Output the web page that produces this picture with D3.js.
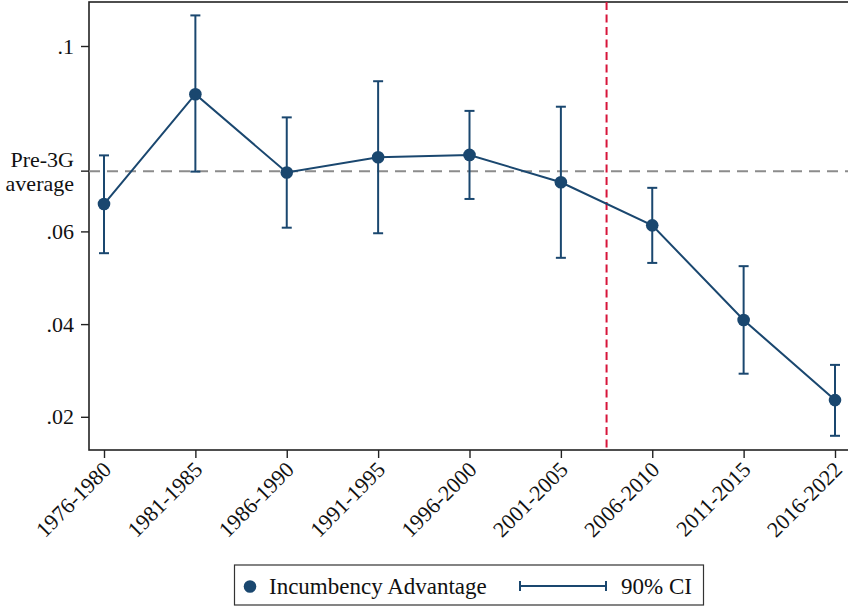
<!DOCTYPE html>
<html>
<head>
<meta charset="utf-8">
<script src="https://cdn.jsdelivr.net/npm/d3@7"></script>
<style>
  html, body { margin: 0; padding: 0; background: #fff; }
  svg { display: block; }
</style>
</head>
<body>
<svg id="chart" width="848" height="607"></svg>
<script>
const periods = ["1976-1980","1981-1985","1986-1990","1991-1995","1996-2000","2001-2005","2006-2010","2011-2015","2016-2022"];
const estimates = [0.0659, 0.0896, 0.0727, 0.0760, 0.0765, 0.0706, 0.0613, 0.0409, 0.0236];
const ciLower  = [0.0553, 0.0729, 0.0608, 0.0596, 0.0670, 0.0543, 0.0532, 0.0293, 0.0159];
const ciUpper  = [0.0764, 0.1066, 0.0846, 0.0924, 0.0860, 0.0869, 0.0694, 0.0525, 0.0312];
const yTicks = [0.02, 0.04, 0.06, 0.1];
const yTickLabels = [".02", ".04", ".06", ".1"];
const pre3GAverage = 0.0730;
const pre3GLabel = ["Pre-3G", "average"];
const cutoffBetween = ["2001-2005", "2006-2010"];
const legendLabels = ["Incumbency Advantage", "90% CI"];

const FONT = "'Liberation Serif', 'Times New Roman', Times, serif";
const FS = 22;
const navy = "#1a476f";
const svg = d3.select("#chart");
const plot = { left: 89, right: 852, top: 2, bottom: 450 };

const x = d3.scalePoint().domain(periods).range([104, 835]);
const y = d3.scaleLinear().domain([0.1, 0.02]).range([46, 416.8]);

// frame
svg.append("rect")
  .attr("x", plot.left).attr("y", plot.top)
  .attr("width", plot.right - plot.left).attr("height", plot.bottom - plot.top)
  .attr("fill", "none").attr("stroke", "#222").attr("stroke-width", 1.6);

// y axis
const yAxis = d3.axisLeft(y).tickValues(yTicks).tickSize(8).tickPadding(7)
  .tickFormat((d, i) => yTickLabels[i]);
const gy = svg.append("g").attr("transform", `translate(${plot.left},0)`).call(yAxis)
  .attr("font-family", FONT).attr("font-size", FS);
gy.select(".domain").remove();
gy.selectAll(".tick line").attr("stroke", "#222").attr("stroke-width", 1.4);
gy.selectAll(".tick text").attr("fill", "#111");

// pre-3G tick + label
svg.append("line").attr("x1", plot.left - 8).attr("x2", plot.left)
  .attr("y1", y(pre3GAverage)).attr("y2", y(pre3GAverage))
  .attr("stroke", "#222").attr("stroke-width", 1.4);
svg.append("text").attr("x", plot.left - 15).attr("y", y(pre3GAverage) - 4)
  .attr("text-anchor", "end").attr("font-family", FONT).attr("font-size", FS).attr("fill", "#111")
  .text(pre3GLabel[0]);
svg.append("text").attr("x", plot.left - 15).attr("y", y(pre3GAverage) + 20)
  .attr("text-anchor", "end").attr("font-family", FONT).attr("font-size", FS).attr("fill", "#111")
  .text(pre3GLabel[1]);

// x axis
const xAxis = d3.axisBottom(x).tickSize(8).tickPadding(4);
const gx = svg.append("g").attr("transform", `translate(0,${plot.bottom})`).call(xAxis)
  .attr("font-family", FONT).attr("font-size", FS);
gx.select(".domain").remove();
gx.selectAll(".tick line").attr("stroke", "#222").attr("stroke-width", 1.4);
gx.selectAll(".tick text")
  .attr("fill", "#111")
  .attr("text-anchor", "end")
  .attr("dy", "0")
  .attr("y", 0)
  .attr("transform", "translate(8,21) rotate(-45)");

// pre-3G average dashed line
svg.append("line")
  .attr("x1", plot.left).attr("x2", plot.right)
  .attr("y1", y(pre3GAverage)).attr("y2", y(pre3GAverage))
  .attr("stroke", "#8c8c8c").attr("stroke-width", 2)
  .attr("stroke-dasharray", "11,7");

// cutoff red dashed line
const xCut = (x(cutoffBetween[0]) + x(cutoffBetween[1])) / 2;
svg.append("line")
  .attr("x1", xCut).attr("x2", xCut)
  .attr("y1", plot.top).attr("y2", plot.bottom)
  .attr("stroke", "#d7153a").attr("stroke-width", 2)
  .attr("stroke-dasharray", "8,4.5");

// error bars
const capW = 5;
const eb = svg.append("g").attr("stroke", navy).attr("stroke-width", 2).attr("fill", "none");
periods.forEach((p, i) => {
  const cx = x(p);
  eb.append("line").attr("x1", cx).attr("x2", cx).attr("y1", y(ciLower[i])).attr("y2", y(ciUpper[i]));
  eb.append("line").attr("x1", cx - capW).attr("x2", cx + capW).attr("y1", y(ciLower[i])).attr("y2", y(ciLower[i]));
  eb.append("line").attr("x1", cx - capW).attr("x2", cx + capW).attr("y1", y(ciUpper[i])).attr("y2", y(ciUpper[i]));
});

// connecting line
const line = d3.line().x((d, i) => x(periods[i])).y(d => y(d));
svg.append("path").datum(estimates)
  .attr("d", line).attr("fill", "none")
  .attr("stroke", navy).attr("stroke-width", 2);

// points
svg.append("g").selectAll("circle").data(estimates).join("circle")
  .attr("cx", (d, i) => x(periods[i])).attr("cy", d => y(d))
  .attr("r", 6.3).attr("fill", navy);

// legend
const lg = svg.append("g").attr("font-family", FONT).attr("font-size", 23);
lg.append("rect").attr("x", 234.5).attr("y", 565).attr("width", 469).attr("height", 40)
  .attr("fill", "#fff").attr("stroke", "#333").attr("stroke-width", 1.2);
lg.append("circle").attr("cx", 250).attr("cy", 586.5).attr("r", 6.3).attr("fill", navy);
lg.append("text").attr("x", 269).attr("y", 594).attr("fill", "#111").text(legendLabels[0]);
lg.append("line").attr("x1", 520).attr("x2", 606).attr("y1", 586).attr("y2", 586)
  .attr("stroke", navy).attr("stroke-width", 2);
lg.append("line").attr("x1", 520).attr("x2", 520).attr("y1", 581).attr("y2", 591)
  .attr("stroke", navy).attr("stroke-width", 2);
lg.append("line").attr("x1", 606).attr("x2", 606).attr("y1", 581).attr("y2", 591)
  .attr("stroke", navy).attr("stroke-width", 2);
lg.append("text").attr("x", 621).attr("y", 594).attr("fill", "#111").text(legendLabels[1]);
</script>
</body>
</html>
